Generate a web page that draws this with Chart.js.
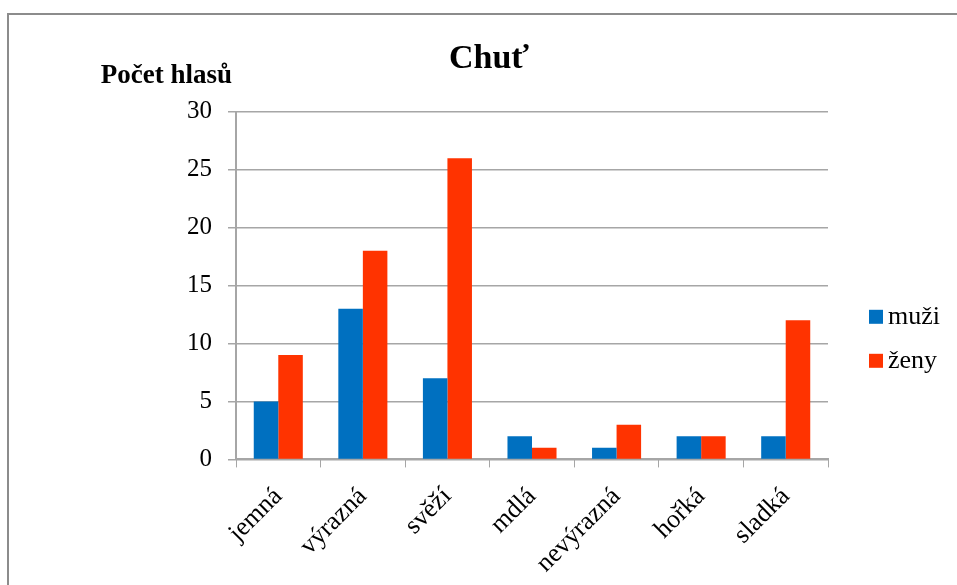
<!DOCTYPE html>
<html lang="cs">
<head>
<meta charset="utf-8">
<script src="https://cdn.jsdelivr.net/npm/chart.js@4/dist/chart.umd.min.js"></script>
<style>
  html, body { margin: 0; padding: 0; background: #fff; overflow: hidden; }
  .frame { position: absolute; left: 7px; top: 13px; width: 990px; height: 640px; border: 2px solid #8c8c8c; }
  .wrap { position: absolute; left: 1px; top: 0; width: 955px; height: 620px; }
</style>
</head>
<body>
<div class="frame"><div class="wrap"><canvas id="chart"></canvas></div></div>
<script>
const categories = ["jemná", "výrazná", "svěží", "mdlá", "nevýrazná", "hořká", "sladká"];
const muzi = [5, 13, 7, 2, 1, 2, 2];
const zeny = [9, 18, 26, 1, 3, 2, 12];
const yTicks = [0, 5, 10, 15, 20, 25, 30];

const serif = "'Liberation Serif', 'Times New Roman', serif";
const gridColor = "#a6a6a6";

// y axis title sits horizontally above the axis, legend is a simple list to the right
const extras = {
  id: "extras",
  afterDraw(chart) {
    const { ctx, chartArea } = chart;
    ctx.save();
    ctx.fillStyle = "#000";
    ctx.font = `bold 27px ${serif}`;
    ctx.textAlign = "right";
    ctx.textBaseline = "alphabetic";
    ctx.fillText("Počet hlasů", chartArea.left - 4, chartArea.top - 29);

    ctx.font = `26px ${serif}`;
    ctx.textAlign = "left";
    ctx.textBaseline = "middle";
    chart.data.datasets.forEach((ds, i) => {
      const x = chartArea.right + 41;
      const y = chartArea.top + 205 + i * 44;
      ctx.fillStyle = ds.backgroundColor;
      ctx.fillRect(x, y - 7, 14, 14);
      ctx.fillStyle = "#000";
      ctx.fillText(ds.label, x + 19, y);
    });
    ctx.restore();
  }
};

new Chart(document.getElementById("chart"), {
  type: "bar",
  data: {
    labels: categories,
    datasets: [
      { label: "muži", data: muzi, backgroundColor: "#0070c0" },
      { label: "ženy", data: zeny, backgroundColor: "#ff3300" }
    ]
  },
  options: {
    responsive: true,
    maintainAspectRatio: false,
    animation: false,
    categoryPercentage: 0.58,
    barPercentage: 1,
    layout: { padding: { left: 140, right: 137, top: 0, bottom: 42 } },
    plugins: {
      title: {
        display: true,
        text: "Chuť",
        color: "#000",
        font: { family: serif, size: 34, weight: "bold" },
        padding: { top: 24, bottom: 32 }
      },
      legend: { display: false },
      tooltip: { enabled: false }
    },
    scales: {
      x: {
        grid: { display: true, drawOnChartArea: false, drawTicks: true, tickLength: 8, color: gridColor, offset: true },
        border: { color: gridColor, width: 2 },
        ticks: { color: "#000", font: { family: serif, size: 26 }, minRotation: 45, maxRotation: 45, padding: 14 }
      },
      y: {
        min: 0,
        max: 30,
        afterBuildTicks: (axis) => { axis.ticks = yTicks.map((value) => ({ value })); },
        afterFit: (axis) => { axis.width = 86; },
        grid: { color: gridColor, lineWidth: 1.5, tickLength: 8 },
        border: { color: gridColor, width: 2 },
        ticks: { color: "#000", font: { family: serif, size: 25 }, padding: 16 }
      }
    }
  },
  plugins: [extras]
});
</script>
</body>
</html>
